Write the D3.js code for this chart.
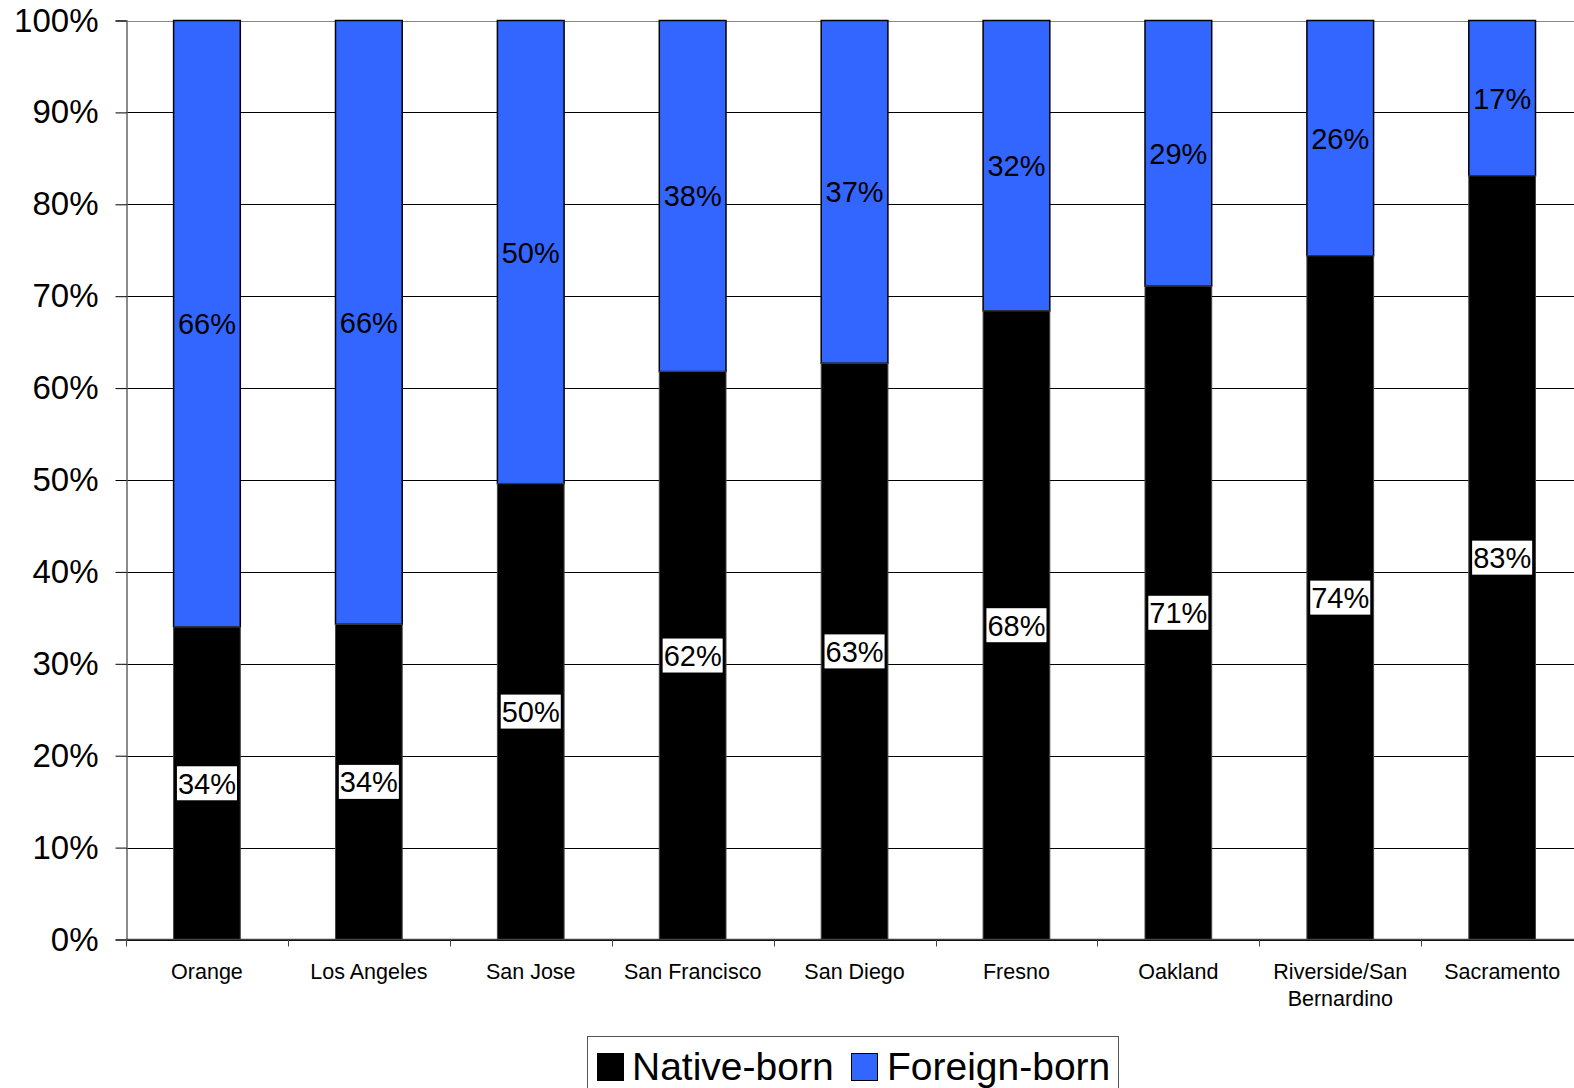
<!DOCTYPE html>
<html>
<head>
<meta charset="utf-8">
<script src="https://cdn.jsdelivr.net/npm/d3@7"></script>
<style>
html,body{margin:0;padding:0;background:#fff;}
svg{display:block;font-family:Arial,"Liberation Sans",sans-serif;}
</style>
</head>
<body>
<svg id="chart" width="1574" height="1088"></svg>
<script>
const categories = ["Orange","Los Angeles","San Jose","San Francisco","San Diego","Fresno","Oakland","Riverside/San Bernardino","Sacramento"];
const nativeBorn = [34.0, 34.3, 49.6, 61.8, 62.7, 68.4, 71.1, 74.4, 83.1];
const foreignBorn = [66.0, 65.7, 50.4, 38.2, 37.3, 31.6, 28.9, 25.6, 16.9];
const nativeLabels = ["34%","34%","50%","62%","63%","68%","71%","74%","83%"];
const foreignLabels = ["66%","66%","50%","38%","37%","32%","29%","26%","17%"];
const yTicks = [0,10,20,30,40,50,60,70,80,90,100];
const seriesNames = ["Native-born","Foreign-born"];
const seriesColors = ["#000000","#3366FF"];

const svg = d3.select("#chart");
const mLeft = 126, mTop = 20.5, mBottom = 939.5;
const step = 161.9;
const mRight = mLeft + step * categories.length;

const x = d3.scaleBand().domain(categories).range([mLeft, mRight]).paddingInner(0.588).paddingOuter(0.294);
const y = d3.scaleLinear().domain([0,100]).range([mBottom, mTop]);

// gridlines
svg.append("g").selectAll("line").data(yTicks).join("line")
  .attr("x1", mLeft).attr("x2", 1574)
  .attr("y1", d => Math.round(y(d)) + 0.5).attr("y2", d => Math.round(y(d)) + 0.5)
  .attr("stroke", d => d === 100 ? "#888" : "#000").attr("stroke-width", 1);

// y axis
const yAxis = d3.axisLeft(y).tickValues(yTicks).tickFormat(d => d + "%").tickSize(11).tickPadding(17);
const gy = svg.append("g").attr("transform", `translate(${mLeft + 0.5},0)`).call(yAxis);
gy.select(".domain").attr("stroke", "#666").attr("stroke-width", 1.5);
gy.selectAll(".tick line").attr("stroke", "#000");
gy.selectAll("text").attr("font-size", 33).attr("fill", "#000").attr("font-family", "Arial, 'Liberation Sans', sans-serif");

// bars
const data = categories.map((c, i) => ({c, n: nativeBorn[i], f: foreignBorn[i], nl: nativeLabels[i], fl: foreignLabels[i]}));
const g = svg.append("g");
g.selectAll("rect.f").data(data).join("rect").attr("class","f")
  .attr("x", d => x(d.c)).attr("width", x.bandwidth())
  .attr("y", d => y(d.n + d.f)).attr("height", d => y(d.n) - y(d.n + d.f))
  .attr("fill", seriesColors[1]).attr("stroke", "#000").attr("stroke-width", 1.5);
g.selectAll("rect.n").data(data).join("rect").attr("class","n")
  .attr("x", d => x(d.c)).attr("width", x.bandwidth())
  .attr("y", d => y(d.n)).attr("height", d => y(0) - y(d.n))
  .attr("fill", seriesColors[0]).attr("stroke", "#444").attr("stroke-width", 1);

// x axis
const gx = svg.append("g");
gx.append("line").attr("x1", mLeft).attr("x2", 1574).attr("y1", mBottom).attr("y2", mBottom).attr("stroke", "#444").attr("stroke-width", 1.5);
gx.selectAll("line.t").data(d3.range(categories.length + 1)).join("line").attr("class","t")
  .attr("x1", i => Math.round(mLeft + i * x.step()) + 0.5).attr("x2", i => Math.round(mLeft + i * x.step()) + 0.5)
  .attr("y1", mBottom).attr("y2", mBottom + 7).attr("stroke", "#444");

// category labels
const catWrap = {"Riverside/San Bernardino": ["Riverside/San", "Bernardino"]};
const cl = gx.selectAll("text.c").data(categories).join("text").attr("class","c")
  .attr("x", d => x(d) + x.bandwidth()/2).attr("y", 979)
  .attr("text-anchor","middle").attr("font-size", 21.5).attr("fill","#000");
cl.each(function(d){
  const lines = catWrap[d] || [d];
  d3.select(this).selectAll("tspan").data(lines).join("tspan")
    .attr("x", x(d) + x.bandwidth()/2).attr("dy", (l,i) => i ? 27 : 0).text(l => l);
});

// data labels
const lab = svg.append("g").attr("font-size", 29);
data.forEach(d => {
  const cx = x(d.c) + x.bandwidth()/2;
  const ny = y(d.n / 2);
  const t = lab.append("text").attr("x", cx).attr("y", ny).attr("dy", "0.36em")
    .attr("text-anchor","middle").attr("fill","#000").text(d.nl);
  const bb = t.node().getBBox();
  lab.insert("rect", () => t.node()).attr("x", bb.x - 1).attr("y", ny - 17).attr("width", bb.width + 2).attr("height", 34).attr("fill","#fff");
  lab.append("text").attr("x", cx).attr("y", y(d.n + d.f/2)).attr("dy","0.36em")
    .attr("text-anchor","middle").attr("fill","#000").text(d.fl);
});

// legend
const lg = svg.append("g");
lg.append("rect").attr("x", 587.5).attr("y", 1036.5).attr("width", 531).attr("height", 60).attr("fill","#fff").attr("stroke","#555").attr("stroke-width",1);
const legX = [597, 851];
const legTX = [632, 887];
seriesNames.forEach((s, i) => {
  lg.append("rect").attr("x", legX[i] + 0.5).attr("y", 1053.5).attr("width", 26).attr("height", 27)
    .attr("fill", seriesColors[i]).attr("stroke","#000").attr("stroke-width",1);
  lg.append("text").attr("x", legTX[i]).attr("y", 1080).attr("font-size", 39).attr("fill","#000").text(s);
});
</script>
</body>
</html>
